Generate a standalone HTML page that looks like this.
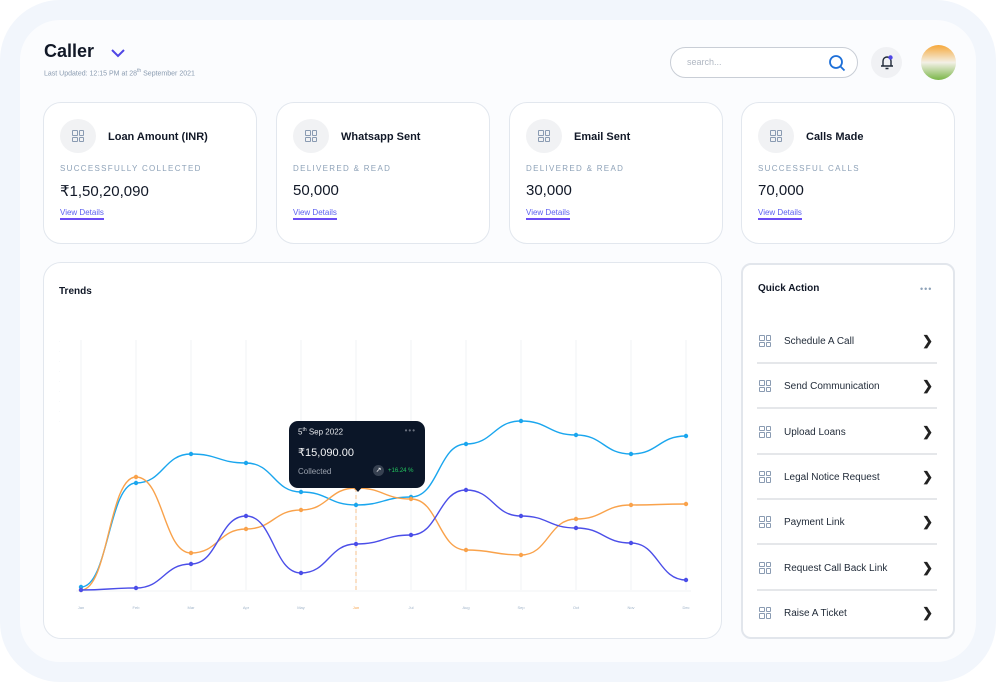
<!DOCTYPE html>
<html><head><meta charset="utf-8">
<style>
*{box-sizing:border-box;margin:0;padding:0}
body{width:996px;height:682px;background:#ffffff;font-family:"Liberation Sans",sans-serif;position:relative;overflow:hidden;color:#111827}
.frame{position:absolute;left:0;top:0;width:996px;height:682px;border-radius:60px;background:#f2f6fc}
.inner{position:absolute;left:20px;top:20px;width:956px;height:642px;border-radius:40px;background:#fbfcfe}
.abs{position:absolute}
.card{position:absolute;background:#fff;border:1px solid #e2e7ee;border-radius:18px}
.ic{position:absolute;width:36px;height:34px;border-radius:50%;background:#f1f2f4}
.grid4{position:absolute;width:12px;height:12px}
.grid4 i{position:absolute;width:5.5px;height:5.5px;border:1px solid #8a9bb2;border-radius:1px}
.ctitle{position:absolute;font-size:11px;font-weight:bold;color:#111827}
.sub{position:absolute;font-size:8px;letter-spacing:1.3px;color:#8ea2b8}
.val{position:absolute;font-size:15px;color:#111827}
.vd{position:absolute;font-size:8px;color:#5b5ff0;border-bottom:2px solid #6a4cf5;padding-bottom:1px}
.qa{position:absolute;left:757px;width:180px;height:46px;border-bottom:2px solid #e5e7ea}
.qa span{position:absolute;left:27px;top:18px;font-size:10px;color:#1f2937}
.qa b{position:absolute;right:4px;top:15px;font-size:13px;color:#222}
</style></head><body>
<div class="frame"></div>
<div class="inner"></div>

<div class="abs" style="left:44px;top:41px;font-size:18px;font-weight:bold;color:#111827">Caller</div>
<svg class="abs" style="left:110px;top:48px" width="16" height="10"><path d="M2 2 L8 8 L14 2" fill="none" stroke="#4f46e5" stroke-width="2"/></svg>
<div class="abs" style="left:44px;top:68px;font-size:7px;color:#8a9bb0">Last Updated: 12:15 PM at 28<sup style="font-size:5px">th</sup> September 2021</div>

<div class="abs" style="left:670px;top:47px;width:188px;height:31px;border:1px solid #c9ced6;border-radius:16px;background:#fff">
<span style="position:absolute;left:16px;top:9px;font-size:9px;color:#b0b7c2">search...</span>
<svg style="position:absolute;right:11px;top:6px" width="18" height="18"><circle cx="8" cy="8" r="6" fill="none" stroke="#1d6fd8" stroke-width="1.8"/><path d="M12.5 12.5 L16.5 16.5" stroke="#1d6fd8" stroke-width="1.8"/></svg></div>
<div class="abs" style="left:871px;top:47px;width:31px;height:31px;border-radius:50%;background:#f0f1f4">
<svg style="position:absolute;left:8px;top:7px" width="16" height="17"><path d="M4 12 V7 a4 4 0 0 1 8 0 V12 Z M2 12 H14 M6.5 14.5 H9.5" fill="none" stroke="#1f2937" stroke-width="1.4"/><circle cx="11.5" cy="3.5" r="2.2" fill="#4f46e5"/></svg></div>
<div class="abs" style="left:921px;top:45px;width:35px;height:35px;border-radius:50%;background:linear-gradient(180deg,#f6a83a 0%,#f3f0e6 50%,#7ab648 100%)"></div>

<div class="card" style="left:43px;top:102px;width:214px;height:142px"></div>
<div class="card" style="left:276px;top:102px;width:214px;height:142px"></div>
<div class="card" style="left:509px;top:102px;width:214px;height:142px"></div>
<div class="card" style="left:741px;top:102px;width:214px;height:142px"></div>
<div id="stats"></div>

<div class="card" style="left:43px;top:262px;width:679px;height:377px"></div>
<div class="abs" style="left:59px;top:286px;font-size:10px;font-weight:bold">Trends</div>
<svg id="chart" class="abs" style="left:0;top:0" width="996" height="682"></svg>
<div class="abs" style="left:289px;top:421px;width:136px;height:67px;background:#0b1628;border-radius:9px">
<div style="position:absolute;left:9px;top:6px;font-size:8px;color:#e5e7eb">5<sup style="font-size:5px">th</sup> Sep 2022</div>
<div style="position:absolute;right:9px;top:5px;font-size:8px;color:#6b7280;letter-spacing:1px">•••</div>
<div style="position:absolute;left:9px;top:25px;font-size:11px;color:#f3f4f6">₹15,090.00</div>
<div style="position:absolute;left:9px;top:46px;font-size:8px;color:#9ca3af">Collected</div>
<div style="position:absolute;left:84px;top:44px;width:11px;height:11px;border-radius:50%;background:#374151;color:#fff;font-size:7px;text-align:center;line-height:11px">↗</div>
<div style="position:absolute;left:99px;top:47px;font-size:6px;color:#22c55e">+16.24 %</div>
<div style="position:absolute;left:63px;top:64px;width:0;height:0;border-left:6px solid transparent;border-right:6px solid transparent;border-top:7px solid #0b1628"></div>
</div>

<div class="card" style="left:741px;top:263px;width:214px;height:376px;border:2px solid #e2e6ec;border-radius:10px"></div>
<div class="abs" style="left:758px;top:283px;font-size:10px;font-weight:bold">Quick Action</div>
<div class="abs" style="left:920px;top:284px;font-size:9px;color:#8ea2b8;letter-spacing:1px">•••</div>
<div id="qas"></div>

<script>
const statTitles=["Loan Amount (INR)","Whatsapp Sent","Email Sent","Calls Made"];
const statSubs=["SUCCESSFULLY COLLECTED","DELIVERED & READ","DELIVERED & READ","SUCCESSFUL CALLS"];
const statVals=["₹1,50,20,090","50,000","30,000","70,000"];
const statX=[43,276,509,741];
const gridIcon='<i style="left:0;top:0"></i><i style="left:6.5px;top:0"></i><i style="left:0;top:6.5px"></i><i style="left:6.5px;top:6.5px"></i>';
let h='';
statTitles.forEach((t,i)=>{const x=statX[i];
h+=`<div class="ic" style="left:${x+17}px;top:119px"><div class="grid4" style="left:12px;top:11px">${gridIcon}</div></div>`;
h+=`<div class="ctitle" style="left:${x+65}px;top:131px">${t}</div>`;
h+=`<div class="sub" style="left:${x+17}px;top:164px">${statSubs[i]}</div>`;
h+=`<div class="val" style="left:${x+17}px;top:182px">${statVals[i]}</div>`;
h+=`<div class="vd" style="left:${x+17}px;top:208px">View Details</div>`;});
document.getElementById('stats').innerHTML=h;

const qaItems=["Schedule A Call","Send Communication","Upload Loans","Legal Notice Request","Payment Link","Request Call Back Link","Raise A Ticket"];
let q='';
qaItems.forEach((t,i)=>{const y=318+i*45.3;
q+=`<div class="qa" style="top:${y}px;${i==6?'border-bottom:none':''}"><div class="grid4" style="left:2px;top:17px">${gridIcon}</div><span>${t}</span><b>❯</b></div>`;});
document.getElementById('qas').innerHTML=q;

const categories=["Jan","Feb","Mar","Apr","May","Jun","Jul","Aug","Sep","Oct","Nov","Dec"];
const cyanSeries=[3,107,136,127,98,85,93,146,169,155,136,154];
const orangeSeries=[0,113,37,61,80,102,91,40,35,71,85,86];
const purpleSeries=[0,2,26,74,17,46,55,100,74,62,47,10];
const yMax=250;
const X0=81,X1=686,Y0=590,Y1=340;
const xs=i=>X0+(X1-X0)*i/(categories.length-1);
const ys=v=>Y0-(Y0-Y1)*v/yMax;
const svg=document.getElementById('chart');
const NS="http://www.w3.org/2000/svg";
function mk(tag,attrs){const e=document.createElementNS(NS,tag);for(const k in attrs)e.setAttribute(k,attrs[k]);svg.appendChild(e);return e;}
categories.forEach((c,i)=>{
 const l=mk('line',{x1:xs(i),x2:xs(i),y1:Y1,y2:Y0,stroke:'#f1f3f6','stroke-width':1});
 
 
 const t=mk('text',{x:xs(i),y:609,'font-size':4,'text-anchor':'middle',fill:i==5?'#f6a24a':'#9fb3c8'});
 t.textContent=c;
 
 
});
for(let k=0;k<9;k++){const t=mk('text',{x:59,y:342+k*10,'font-size':3,fill:'#9fb3c8'});t.textContent='·';
 
 }
const base=mk('line',{x1:X0-5,x2:X1+5,y1:Y0+1,y2:Y0+1,stroke:'#f1f3f6'});


const hv=mk('line',{x1:xs(5),x2:xs(5),y1:ys(orangeSeries[5]),y2:Y0+2,stroke:'#f6a24a','stroke-dasharray':'4 3','stroke-width':1,opacity:.6});


function pathFor(vals){const p=vals.map((v,i)=>[xs(i),ys(v)]);let d=`M${p[0][0]},${p[0][1]}`;
 for(let i=0;i<p.length-1;i++){const b=p[i],c=p[i+1];const mx=(b[0]+c[0])/2;
 d+=` C${mx},${b[1]} ${mx},${c[1]} ${c[0]},${c[1]}`;}return d;}
function series(vals,col,name){
 const p=mk('path',{d:pathFor(vals),fill:'none',stroke:col,'stroke-width':1.4});
 
 
 vals.forEach((v,i)=>{const c=mk('circle',{cx:xs(i),cy:ys(v),r:2.2,fill:col});
 
 });
}
series(cyanSeries,'#1aa6ee','cyan-series');
series(orangeSeries,'#f9a24b','orange-series');
series(purpleSeries,'#4b4ee8','purple-series');
</script>
</body></html>
